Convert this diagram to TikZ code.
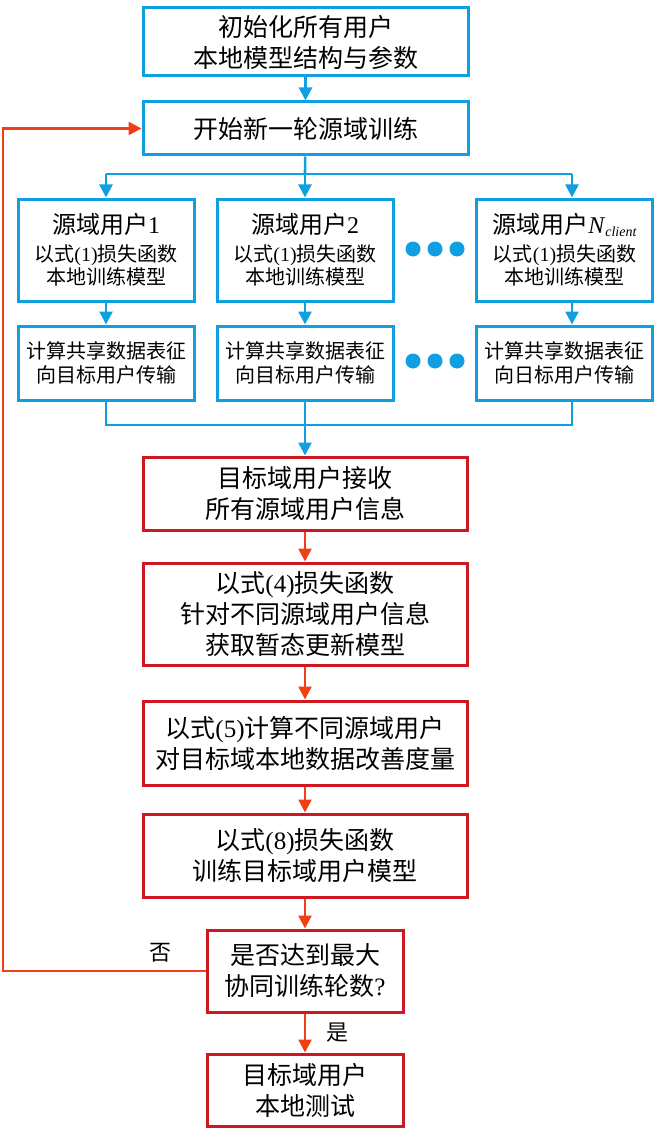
\documentclass[tikz,border=0pt]{standalone}
\usepackage{fontspec}
\setmainfont{Liberation Serif}
\newfontfamily\cjk{Noto Sans CJK SC}
\usetikzlibrary{arrows.meta}
\definecolor{flowblue}{RGB}{16,160,226}
\definecolor{boxred}{RGB}{204,24,30}
\definecolor{linered}{RGB}{238,64,20}
\newcommand{\lt}[1]{{\rmfamily #1}}
\tikzset{
  bbox/.style={draw=flowblue,line width=3pt,inner sep=0pt,align=center},
  rbox/.style={draw=boxred,line width=3pt,inner sep=0pt,align=center},
  bline/.style={draw=flowblue,line width=2.6pt},
  barrow/.style={bline,-{Triangle[width=13pt,length=13pt]}},
  rarrow/.style={draw=linered,line width=2.6pt,-{Triangle[width=13pt,length=13pt]}},
  small/.style={font=\cjk\fontsize{20}{23.5}\selectfont}
}

\begin{document}
\begin{tikzpicture}[x=1pt,y=-1pt,font=\cjk\fontsize{25}{31}\selectfont]
  \fill[white] (0,0) rectangle (660,1134);
  \useasboundingbox (0,0) rectangle (660,1134);
  % start of a round
  \node[bbox,minimum width=325pt,minimum height=68pt] (init) at (305.5,42) {初始化所有用户\\本地模型结构与参数};
  \node[bbox,minimum width=325pt,minimum height=53pt] (start) at (305.5,128.5) {开始新一轮源域训练};
  \draw[barrow] (init) -- (start);
  % source users, one column each
  \foreach \n/\x/\lab/\m in {1/106/\lt{1}/目,2/305/\lt{2}/目,N/564.5/{\lt{\textit{N}\raisebox{-3pt}{\fontsize{14}{14}\selectfont\textit{client}}}}/日} {
    \node[bbox,small,minimum width=176pt,minimum height=102pt] (s\n) at (\x,250)
      {{\fontsize{24}{26}\selectfont 源域用户\lab}\\[4pt]以式\lt{(1)}损失函数\\本地训练模型};
    \node[bbox,small,minimum width=176pt,minimum height=74pt] (t\n) at (\x,363) {计算共享数据表征\\向\m 标用户传输};
  }
  \foreach \y in {249,361} {\foreach \x in {413,435,457} {\fill[flowblue] (\x,\y) circle (7.5);}}
  % fork and join
  \coordinate (fork) at (305,174);
  \coordinate (join) at (305,425);
  \coordinate (colN) at (572,0);
  \draw[bline] (start) -- (fork);
  \draw[bline] (s1.north |- fork) -- (colN |- fork);
  \draw[barrow] (s1.north |- fork) -- (s1.north);
  \draw[barrow] (fork) -- (s2.north);
  \draw[barrow] (colN |- fork) -- (colN |- sN.north);
  \draw[barrow] (s1) -- (t1);
  \draw[barrow] (s2) -- (t2);
  \draw[barrow] (colN |- sN.south) -- (colN |- tN.north);
  \draw[bline] (t1.south) -- (t1.south |- join) -- (colN |- join) -- (colN |- tN.south);
  % target user
  \node[rbox,minimum width=324pt,minimum height=73pt] (recv) at (305,493.5) {目标域用户接收\\所有源域用户信息};
  \node[rbox,minimum width=324pt,minimum height=102pt] (upd) at (305,614) {以式\lt{(4)}损失函数\\针对不同源域用户信息\\获取暂态更新模型};
  \node[rbox,minimum width=324pt,minimum height=84pt] (gain) at (305,743) {以式\lt{(5)}计算不同源域用户\\对目标域本地数据改善度量};
  \node[rbox,minimum width=324pt,minimum height=83pt] (train) at (305,855.5) {以式\lt{(8)}损失函数\\训练目标域用户模型};
  \node[rbox,minimum width=196pt,minimum height=82pt] (dec) at (305,971) {是否达到最大\\协同训练轮数\lt{?}};
  \node[rbox,minimum width=196pt,minimum height=72pt] (test) at (305,1090) {目标域用户\\本地测试};
  \draw[barrow] (t2) -- (recv);
  \draw[rarrow] (recv) -- (upd);
  \draw[rarrow] (upd) -- (gain);
  \draw[rarrow] (gain) -- (train);
  \draw[rarrow] (train) -- (dec);
  \draw[rarrow] (dec) -- (test);
  % loop back
  \coordinate (back) at (3,0);
  \draw[rarrow] (dec.west) -- (back |- dec.west) -- (back |- start.west) -- (start.west);
  \node[font=\cjk\fontsize{22}{22}\selectfont] (no) at (160,953) {否};
  \node[font=\cjk\fontsize{22}{22}\selectfont] (yes) at (337,1033) {是};
\end{tikzpicture}
\end{document}
